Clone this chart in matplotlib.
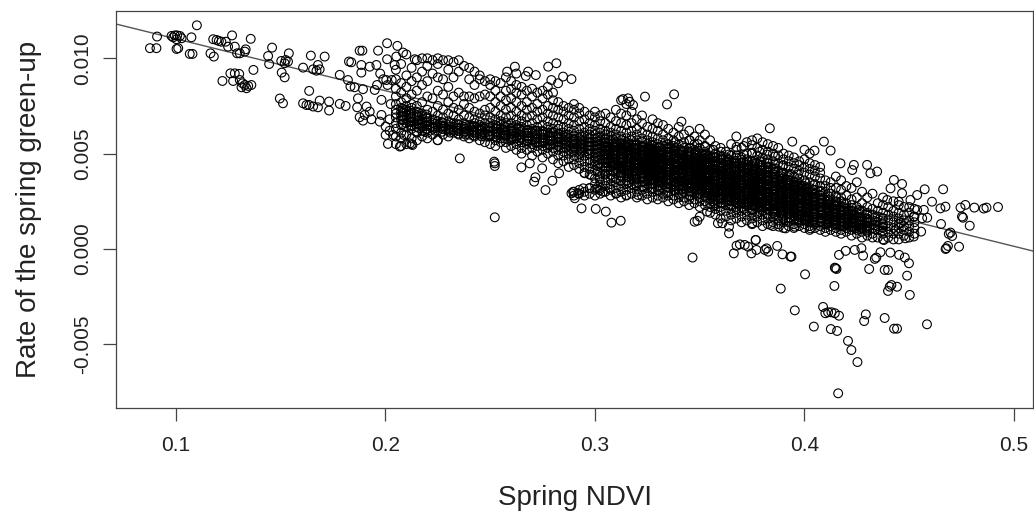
# spring NDVI vs rate of green-up
import numpy as np
import matplotlib
matplotlib.use("Agg")
import matplotlib.pyplot as plt

plt.rcParams['font.family'] = ['Liberation Sans', 'DejaVu Sans']

# rate values are in units of 0.001
# isolated points on the left
left_points = [(.0876,10.53),(.0907,10.53),(.091,11.14),(.0979,11.17),(.0995,11.2),(.1006,11.2),(.1019,11.17),(.1003,11.0),
    (.0987,11.1),(.1027,11.05),(.1003,10.49),(.1011,10.53),(.1074,11.1),(.11,11.73),(.1066,10.23),(.1079,10.23),
    (.1165,10.26),(.1181,10.09),(.1178,11.0),(.1194,10.96),(.1205,10.91),(.1217,10.87),(.1238,10.87),(.1268,11.2),
    (.1249,10.61),(.1281,10.61),(.1292,10.26),(.1305,10.26),(.1333,10.47),(.1329,10.35),(.1357,11.02),(.1222,8.81),
    (.1260,9.21),(.1281,9.21),(.1302,9.18),(.1273,8.81),(.1305,8.86),(.1318,8.69),(.1329,8.6),(.1345,8.55),(.1360,8.6),
    (.1313,8.48),(.1337,8.43),(.137,9.39),(.1459,10.56),(.1440,10.12),(.1445,9.70),(.1539,10.26),(.1503,9.86),
    (.1524,9.91),(.1535,9.83),(.1519,9.74),(.1505,9.25),(.1519,9.0),(.1496,7.89),(.1511,7.64),(.1607,9.51),(.1644,10.14),
    (.1710,10.09),(.1678,9.65),(.1655,9.42),(.1671,9.35),(.1686,9.42),(.1636,8.29),(.1607,7.64),(.1623,7.55),(.1636,7.55),
    (.1655,7.47),(.1678,7.43),(.1686,7.78),(.1731,7.73),(.1731,7.26),(.1782,7.61),(.1810,7.5),(.1782,9.13),(.1821,8.86),
    (.1833,8.52),(.1853,8.48),(.1893,8.38),(.1826,9.83),(.1837,9.79),(.1877,10.4),(.1890,10.4),(.1885,9.65),(.1925,9.56),
    (.1957,9.65),(.1885,9.25),(.1965,10.4),(.2008,10.79),(.2057,10.65),(.2084,10.3),(.2140,9.95),(.2008,9.95),(.2052,10.09),
    (.2044,9.65),(.1949,8.34),(.1981,7.82),(.1869,7.9),(.1865,7.43),(.1910,7.47),(.1925,7.2),(.1901,7.03),(.1877,6.91),
    (.1893,6.73),(.1933,6.8),(.1981,7.03),(.1973,6.68),(.2020,6.8),(.2001,6.42),(.2001,5.98),(.2012,5.51),(.2036,5.98),
    (.1990,8.9),(.1975,9.2),(.2010,8.6),(.2030,8.86),(.2004,8.86),(.1960,8.6),(.2025,7.6),(.2020,6.2)]

# isolated points under the band and above it
middle_points = [(.2522,1.66),(.2355,4.75),(.2519,4.58),(.2522,4.35),(.2522,4.49),(.2649,4.28),(.2689,4.49),(.2748,4.23),
    (.2829,3.97),(.2797,3.58),(.2716,3.76),(.2710,3.53),(.2764,3.09),(.2888,2.92),(.2904,2.66),(.2896,3.0),(.2920,2.92),
    (.2944,3.18),(.2936,2.13),(.3004,2.1),(.3052,1.96),(.3079,1.38),(.3123,1.48),(.3023,3.09),(.2975,3.18),(.3007,3.18),
    (.3039,3.0),(.3103,2.92),(.3150,2.83),(.3206,2.83),(.3071,3.18),(.2951,3.97),(.2983,3.88),(.3023,3.7),(.3239,7.99),
    (.3378,8.11),(.3344,7.58),(.3413,6.68),(.3134,7.86),(.3158,7.9),(.3182,7.55),(.3166,7.72),(.2888,8.91),(.2618,9.56),
    (.2581,9.3),(.2681,9.3),(.2670,9.07),(.2718,9.12),(.2777,9.56),(.2816,9.74),(.2792,8.86),(.2824,8.69),(.2848,9.04),
    (.3476,1.43),(.3500,1.69),(.3489,1.48),(.3535,1.96),(.3587,1.35),(.3571,2.39),(.2249,5.71),(.2117,5.54),(.2129,5.45),
    (.2088,5.98),(.2069,5.37),(.2149,6.15),(.2188,6.15),(.3466,-.45)]

# points lower right and the right-hand tail
right_points = [(.3663,-.23),(.3676,.17),(.3692,.24),(.3715,.21),(.3731,.12),(.3747,-.23),(.3771,-.05),(.3768,.47),(.3811,-.05),
    (.3827,-.14),(.3819,.03),(.3870,.16),(.3895,-.28),(.3933,-.40),(.3938,-.40),(.4003,-1.33),(.3887,-2.08),(.3954,-3.22),
    (.4045,-4.07),(.4089,-3.04),(.4100,-3.37),(.4113,-3.32),(.4129,-3.32),(.4145,-3.37),(.4165,-3.5),(.4126,-4.2),(.4156,-4.3),
    (.4208,-4.82),(.4224,-5.3),(.4253,-5.93),(.4161,-7.57),(.4293,-3.43),(.4285,-3.78),(.4383,-3.62),(.4428,-4.18),(.4442,-4.18),
    (.4585,-3.95),(.4143,-1.94),(.4148,-1.01),(.4153,-1.05),(.4145,-.98),(.4309,-1.05),(.4383,-1.1),(.4399,-1.1),(.4490,-1.4),
    (.4407,-1.98),(.4399,-2.2),(.4415,-1.89),(.4442,-1.98),(.4503,-2.41),(.4165,-.31),(.4197,-.1),(.4240,-.05),(.4272,.04),
    (.4280,-.35),(.4343,-.45),(.4336,-.52),(.4363,-.17),(.4410,-.19),(.4452,-.31),(.4479,-.45),(.4499,-.75),(.4677,.04),
    (.4685,.16),(.4738,.12),(.4674,0.0),(.3835,6.33),(.3942,5.63),(.4093,5.63),(.4125,5.16),(.4048,5.16),(.4662,3.13),
    (.4574,3.13),(.4609,2.48),(.4649,2.13),(.4673,2.22),(.4745,2.17),(.4768,2.31),(.4811,2.17),(.4856,2.12),(.4869,2.17),
    (.4924,2.2),(.4752,1.7),(.4757,1.64),(.4789,1.22),(.4652,1.31),(.4586,1.64),(.4557,.91),(.4697,.86),(.4705,.68),(.4689,.79),
    (.4172,4.49),(.4228,4.14),(.4299,4.41),(.4315,3.97),(.4236,4.41),(.4347,4.06),(.4427,3.62),(.4466,3.41),(.4411,3.18),
    (.4466,2.92),(.4538,2.83),(.4450,2.48),(.4395,2.57),(.4506,2.57),(.4538,2.05),(.4570,2.05),(.4522,1.7),(.4562,1.61),
    (.4522,.65),(.4482,.56),(.4435,1.0),(.4458,1.35),(.4379,.47),(.3608,1.35),(.3640,.82),(.3640,1.17),(.3767,.47),
    (.3751,1.35),(.3838,1.26),(.3878,1.17),(.3910,1.08),(.3954,1.17),(.4029,1.08)]

# the main band, read column by column
band_ndvi = [.205,.2075,.21,.2125,.215,.2175,.22,.2225,.225,.2275,.23,.2325,.235,.2375,.24,.2425,.245,.2475,.25,.2525,
    .255,.2575,.26,.2625,.265,.2675,.27,.2725,.275,.2775,.28,.2825,.285,.2875,.29,.2925,.295,.2975,.30,.3025,
    .305,.3075,.31,.3125,.315,.3175,.32,.3225,.325,.3275,.33,.3325,.335,.3375,.34,.3425,.345,.3475,.35,.3525,
    .355,.3575,.36,.3625,.365,.3675,.37,.3725,.375,.3775,.38,.3825,.385,.3875,.39,.3925,.395,.3975,.40,.4025,
    .405,.4075,.41,.4125,.415,.4175,.42,.4225,.425,.4275,.43,.4325,.435,.4375,.44,.4425,.445,.4475,.45,.4525]
band_rate = [
    [5.5,5.9,6.3,6.6,6.9,7.1,7.3,7.6,8.0,8.4,8.9,9.4],
    [5.4,5.8,6.1,6.5,6.8,7.0,7.2,7.4,7.7,8.2,8.7,9.7],
    [5.5,6.0,6.4,6.6,6.8,7.0,7.2,7.3,7.5,7.9,8.5,9.1,10.2],
    [5.5,5.8,6.3,6.5,6.7,6.9,7.1,7.4,7.6,8.1,8.8,9.5],
    [5.7,6.1,6.4,6.6,6.7,6.9,7.0,7.2,7.5,8.3,9.0,9.9],
    [5.9,6.2,6.4,6.6,6.8,7.0,7.1,7.7,8.6,9.3,10.0],
    [5.8,6.1,6.3,6.5,6.7,6.9,7.3,8.0,8.8,9.6,10.0],
    [6.0,6.3,6.4,6.6,6.8,7.2,7.9,9.2,9.9],
    [5.7,6.2,6.4,6.5,6.7,7.0,7.5,8.3,9.0,9.7,10.0],
    [6.0,6.3,6.4,6.6,6.9,7.3,8.1,8.9,9.9],
    [5.9,6.2,6.3,6.5,6.7,7.1,7.7,8.5,9.4,9.9],
    [6.1,6.2,6.4,6.6,7.0,7.4,8.0,9.0,9.8],
    [6.0,6.2,6.3,6.5,6.8,7.3,8.2,9.3,9.9],
    [5.9,6.1,6.3,6.4,6.6,7.0,7.6,8.0,9.6],
    [5.8,6.0,6.2,6.4,6.5,6.9,7.4,8.0,8.9,9.5],
    [5.9,6.1,6.2,6.4,6.6,6.8,7.2,7.9,8.6,9.3],
    [5.7,6.0,6.2,6.3,6.5,6.7,7.1,8.0,8.9,9.1],
    [5.6,5.9,6.1,6.3,6.4,6.6,7.0,7.3,8.1,8.8],
    [5.5,5.9,6.0,6.2,6.4,6.6,6.9,7.4,8.0,8.6,8.9],
    [5.4,5.7,5.9,6.1,6.3,6.5,6.8,7.2,7.7,8.3,8.8],
    [5.6,5.8,6.0,6.1,6.3,6.5,6.7,7.0,7.5,8.0,8.7],
    [5.3,5.6,5.9,6.0,6.2,6.4,6.6,6.9,7.3,7.8,8.3,9.0],
    [5.4,5.7,5.8,6.0,6.2,6.3,6.6,7.0,7.4,7.9,8.4,8.8],
    [5.2,5.5,5.8,5.9,6.1,6.3,6.5,6.8,7.2,7.7,8.2,8.6,9.2],
    [5.0,5.3,5.6,5.8,6.0,6.2,6.4,6.7,7.0,7.5,8.1,8.5],
    [5.2,5.5,5.7,5.9,6.1,6.2,6.5,6.9,7.3,7.7,8.3],
    [4.9,5.3,5.5,5.7,5.9,6.1,6.3,6.6,7.0,7.4,8.0,8.4],
    [5.1,5.4,5.6,5.8,6.0,6.2,6.4,6.8,7.2,7.6,8.2],
    [4.8,5.2,5.4,5.6,5.8,6.0,6.2,6.5,6.9,7.3,7.9,8.3],
    [5.0,5.3,5.5,5.7,5.9,6.1,6.4,6.7,7.1,7.5,8.1,8.5],
    [4.7,5.1,5.3,5.5,5.7,5.9,6.1,6.3,6.6,7.0,7.4,7.8,8.2],
    [4.5,4.9,5.2,5.4,5.6,5.8,6.0,6.3,6.5,6.9,7.3,7.7],
    [4.6,4.9,5.1,5.3,5.5,5.7,5.9,6.1,6.4,6.8,7.2,7.5],
    [4.3,4.7,5.0,5.2,5.4,5.6,5.8,6.0,6.3,6.6,7.0,7.4],
    [2.8,3.0,4.4,4.7,4.9,5.1,5.3,5.5,5.7,5.9,6.2,6.5,6.9,7.3,7.6],
    [2.9,3.1,4.2,4.5,4.8,5.0,5.2,5.4,5.6,5.8,6.0,6.3,6.7,7.1,7.4],
    [2.8,3.0,4.0,4.3,4.6,4.9,5.1,5.3,5.5,5.7,5.9,6.1,6.4,6.8,7.2],
    [2.9,3.2,3.9,4.2,4.5,4.7,5.0,5.2,5.4,5.6,5.8,6.0,6.3,6.6,7.0],
    [2.8,3.1,3.4,3.7,4.1,4.4,4.6,4.8,5.0,5.2,5.4,5.6,5.8,6.0,6.2,6.5,6.9,7.2],
    [2.9,3.2,3.5,3.8,4.0,4.3,4.5,4.7,4.9,5.1,5.3,5.5,5.7,5.9,6.1,6.3,6.7,7.0],
    [3.0,3.3,3.6,3.9,4.1,4.3,4.5,4.7,4.9,5.0,5.2,5.4,5.6,5.8,6.0,6.2,6.6,7.1],
    [2.8,3.1,3.4,3.7,3.9,4.1,4.3,4.5,4.6,4.8,5.0,5.2,5.3,5.5,5.7,5.9,6.1,6.4,6.9],
    [2.9,3.2,3.5,3.7,4.0,4.2,4.4,4.5,4.7,4.9,5.1,5.2,5.4,5.6,5.8,6.0,6.3,6.7,7.3],
    [2.7,3.0,3.3,3.6,3.8,4.0,4.2,4.3,4.5,4.7,4.8,5.0,5.2,5.3,5.5,5.7,5.9,6.2,6.6,7.1,7.8],
    [2.8,3.1,3.4,3.6,3.8,4.0,4.1,4.3,4.4,4.6,4.8,4.9,5.1,5.3,5.4,5.6,5.8,6.1,6.5,7.0,7.6],
    [2.9,3.2,3.4,3.7,3.9,4.0,4.2,4.4,4.5,4.7,4.8,5.0,5.1,5.3,5.5,5.7,5.9,6.2,6.6,7.2],
    [2.7,3.0,3.3,3.5,3.7,3.9,4.1,4.2,4.4,4.5,4.7,4.9,5.0,5.2,5.3,5.5,5.7,6.0,6.3,6.8],
    [2.8,3.1,3.3,3.5,3.7,3.8,4.0,4.2,4.3,4.5,4.6,4.8,4.9,5.1,5.2,5.4,5.6,5.8,6.1,6.6,7.0],
    [2.6,2.9,3.2,3.4,3.6,3.8,3.9,4.1,4.2,4.4,4.5,4.7,4.8,5.0,5.2,5.3,5.5,5.7,6.0,6.4],
    [2.7,3.0,3.2,3.4,3.6,3.7,3.9,4.0,4.2,4.3,4.5,4.6,4.8,4.9,5.1,5.2,5.4,5.6,5.9,6.3,6.8],
    [2.6,2.8,3.1,3.3,3.5,3.6,3.8,3.9,4.1,4.2,4.4,4.5,4.7,4.8,5.0,5.1,5.3,5.5,5.8,6.2,6.6],
    [2.7,2.9,3.2,3.4,3.5,3.7,3.8,4.0,4.1,4.3,4.4,4.6,4.7,4.9,5.0,5.2,5.4,5.7,6.0,6.5],
    [2.5,2.8,3.0,3.2,3.4,3.6,3.7,3.9,4.0,4.2,4.3,4.5,4.6,4.8,4.9,5.1,5.3,5.5,5.8,6.3],
    [2.6,2.8,3.1,3.3,3.4,3.6,3.8,3.9,4.1,4.2,4.4,4.5,4.7,4.8,5.0,5.2,5.4,5.7,6.1],
    [2.4,2.7,2.9,3.1,3.3,3.5,3.6,3.8,3.9,4.1,4.2,4.4,4.5,4.7,4.8,5.0,5.2,5.5,5.9,6.4],
    [2.5,2.7,3.0,3.2,3.3,3.5,3.7,3.8,4.0,4.1,4.3,4.4,4.6,4.7,4.9,5.1,5.3,5.6,6.0],
    [2.3,2.6,2.8,3.0,3.2,3.4,3.5,3.7,3.8,4.0,4.1,4.3,4.4,4.6,4.7,4.9,5.1,5.3,5.7,6.2],
    [2.4,2.6,2.9,3.1,3.2,3.4,3.6,3.7,3.9,4.0,4.2,4.3,4.5,4.6,4.8,5.0,5.2,5.5,5.9],
    [2.2,2.5,2.7,2.9,3.1,3.3,3.4,3.6,3.7,3.9,4.0,4.2,4.3,4.5,4.6,4.8,5.0,5.3,5.7,6.3],
    [2.3,2.5,2.8,3.0,3.1,3.3,3.5,3.6,3.8,3.9,4.1,4.2,4.4,4.5,4.7,4.9,5.1,5.4,6.0],
    [1.9,2.2,2.4,2.6,2.8,3.0,3.2,3.3,3.5,3.6,3.8,3.9,4.1,4.2,4.4,4.5,4.7,4.9,5.2,5.7],
    [1.8,2.1,2.3,2.6,2.7,2.9,3.1,3.2,3.4,3.5,3.7,3.8,4.0,4.1,4.3,4.4,4.6,4.8,5.0,5.4],
    [1.6,2.0,2.2,2.4,2.6,2.8,3.0,3.1,3.3,3.4,3.6,3.7,3.9,4.0,4.2,4.3,4.5,4.7,4.9,5.3],
    [1.7,2.0,2.3,2.5,2.7,2.9,3.0,3.2,3.3,3.5,3.6,3.8,3.9,4.1,4.2,4.4,4.6,4.8,5.1],
    [1.5,1.8,2.1,2.3,2.5,2.7,2.8,3.0,3.1,3.3,3.4,3.6,3.7,3.9,4.0,4.2,4.4,4.6,4.9,5.5],
    [1.6,1.9,2.1,2.4,2.6,2.7,2.9,3.0,3.2,3.3,3.5,3.6,3.8,3.9,4.1,4.3,4.5,4.8,5.2,5.9],
    [1.4,1.7,2.0,2.2,2.4,2.6,2.7,2.9,3.0,3.2,3.3,3.5,3.6,3.8,3.9,4.1,4.3,4.5,4.8,5.3],
    [1.5,1.8,2.0,2.3,2.5,2.6,2.8,2.9,3.1,3.2,3.4,3.5,3.7,3.8,4.0,4.2,4.4,4.7,5.0,5.6],
    [1.3,1.6,1.9,2.1,2.3,2.5,2.6,2.8,2.9,3.1,3.2,3.4,3.5,3.7,3.9,4.1,4.3,4.6,5.0,5.7],
    [1.4,1.7,1.9,2.2,2.4,2.5,2.7,2.8,3.0,3.1,3.3,3.4,3.6,3.8,4.0,4.2,4.5,4.9,5.3,5.8],
    [1.2,1.5,1.8,2.0,2.2,2.4,2.5,2.7,2.8,3.0,3.1,3.3,3.5,3.7,3.9,4.1,4.4,4.8,5.2,5.6],
    [1.3,1.6,1.8,2.1,2.3,2.4,2.6,2.7,2.9,3.0,3.2,3.4,3.6,3.8,4.0,4.3,4.7,5.1,5.5],
    [1.2,1.4,1.7,1.9,2.1,2.3,2.4,2.6,2.7,2.9,3.1,3.3,3.5,3.7,3.9,4.2,4.6,5.0,5.4],
    [1.3,1.5,1.7,2.0,2.2,2.3,2.5,2.6,2.8,3.0,3.2,3.4,3.6,3.8,4.1,4.5,4.9,5.3],
    [1.1,1.4,1.6,1.8,2.0,2.2,2.3,2.5,2.7,2.9,3.1,3.3,3.5,3.7,4.0,4.4,4.7,5.0],
    [1.2,1.4,1.6,1.9,2.1,2.2,2.4,2.6,2.8,3.0,3.2,3.4,3.6,3.9,4.3,4.6,4.9],
    [1.1,1.3,1.5,1.7,1.9,2.1,2.3,2.5,2.7,2.9,3.1,3.3,3.5,3.8,4.2,4.5,4.8],
    [1.2,1.4,1.5,1.8,2.0,2.2,2.4,2.6,2.8,3.0,3.2,3.4,3.7,4.1,4.4,4.6],
    [1.1,1.3,1.5,1.6,1.9,2.1,2.3,2.5,2.7,2.9,3.1,3.3,3.6,4.0,4.3,4.7,5.2],
    [1.0,1.2,1.4,1.6,1.8,2.0,2.2,2.4,2.6,2.8,3.0,3.2,3.5,3.9,4.2,4.5,5.0],
    [1.1,1.3,1.4,1.7,1.9,2.1,2.3,2.5,2.7,2.9,3.1,3.4,3.8,4.1,4.4],
    [1.0,1.2,1.4,1.6,1.8,2.0,2.2,2.4,2.6,2.8,3.0,3.3,3.7,4.0,4.3],
    [0.9,1.1,1.3,1.5,1.7,1.9,2.1,2.3,2.5,2.7,3.0,3.3,3.6],
    [1.0,1.2,1.4,1.6,1.8,2.0,2.2,2.4,2.6,2.9,3.2,3.5],
    [0.9,1.1,1.3,1.5,1.7,1.9,2.1,2.3,2.5,2.8,3.2,3.8],
    [0.8,1.0,1.2,1.4,1.6,1.8,2.0,2.2,2.5,2.7,3.1,3.6],
    [0.9,1.1,1.3,1.5,1.7,1.9,2.1,2.4,2.8,3.3],
    [0.7,1.0,1.2,1.4,1.6,1.8,2.0,2.3,2.6,3.2],
    [0.8,1.0,1.1,1.3,1.5,1.7,1.9,2.2,2.7,3.5],
    [0.6,0.9,1.1,1.3,1.5,1.7,2.0,2.4,3.0],
    [0.7,0.9,1.2,1.4,1.6,1.9,2.2,2.7],
    [0.6,0.8,1.1,1.3,1.5,1.8,2.1,2.9],
    [0.6,1.0,1.2,1.4,1.7,2.0,2.4],
    [0.5,0.8,1.1,1.3,1.6,1.9,2.3,2.7],
    [0.6,0.9,1.2,1.5,1.8,2.2],
    [0.5,0.8,1.1,1.4,1.7,2.0,2.5],
    [0.5,0.8,1.1,1.3,1.6,1.9,2.3],
    [0.7,1.0,1.2,1.5,1.8,2.2],
    [0.6,0.9,1.2,1.5,1.9,2.2],
    [0.8,1.1,1.4,1.7,2.1],
]

# darker ridge on the left half of the band
ridge_ndvi = [.2083,.2121,.2158,.2196,.2237,.2271,.2309,.2348,.2382,.2421,.2459,.2493,.2532,.2568,.2603,.2641,.2679,.2714,
    .2752,.2787,.2826,.2861,.2899,.2934,.2972]
ridge_rate = [
    [6.55,6.75,6.95,7.15,7.35],[6.45,6.65,6.85,7.05,7.25],[6.35,6.55,6.75,6.95,7.15],[6.3,6.45,6.65,6.85,7.05],
    [6.2,6.35,6.55,6.75],[6.15,6.3,6.45,6.65],[6.1,6.25,6.4,6.6],[6.05,6.2,6.35,6.55],[6.0,6.15,6.3,6.5],
    [5.95,6.1,6.25,6.45],[5.9,6.05,6.2,6.4],[5.9,6.0,6.15,6.35],[5.85,6.0,6.15,6.3,6.45],[5.8,5.95,6.1,6.25,6.4],
    [5.75,5.9,6.05,6.2,6.35],[5.7,5.85,6.0,6.15,6.3],[5.65,5.8,5.95,6.1,6.25],[5.6,5.75,5.9,6.05,6.2],
    [5.55,5.7,5.85,6.0,6.15],[5.45,5.65,5.8,5.95,6.1],[5.4,5.6,5.75,5.9,6.05],[5.3,5.5,5.65,5.85,6.0],
    [5.2,5.4,5.6,5.75,5.95],[5.1,5.3,5.5,5.7,5.9],[5.0,5.2,5.4,5.6,5.8]]

# black core of the band
core_ndvi = [.3012,.3049,.3086,.3123,.3158,.3197,.3233,.3271,.3306,.3344,.3381,.3418,.3453,.3492,.3527,.3565,.3602,.3639,
    .3676,.3711,.3749,.3786,.3822,.3858,.3896,.3931,.3969,.4006,.4042,.4079,.4116,.4152,.4189,.4226,.4262,.4299,.4337,.4373]
core_rate = [
    [4.05,4.35,4.65,4.85,5.05,5.25,5.45,5.65,5.85],[3.95,4.25,4.55,4.75,4.95,5.15,5.35,5.55,5.75],
    [3.75,4.05,4.35,4.55,4.75,4.95,5.15,5.35,5.55,5.75],[3.55,3.85,4.15,4.35,4.55,4.75,4.95,5.15,5.35,5.55],
    [3.45,3.75,3.95,4.15,4.35,4.55,4.75,4.95,5.15,5.35,5.55],[3.35,3.65,3.85,4.05,4.25,4.45,4.65,4.85,5.05,5.25,5.45],
    [3.25,3.55,3.75,3.95,4.15,4.35,4.55,4.75,4.95,5.15,5.35],[3.15,3.45,3.65,3.85,4.05,4.25,4.45,4.65,4.85,5.05,5.25,5.45],
    [3.05,3.35,3.55,3.75,3.95,4.15,4.35,4.55,4.75,4.95,5.15,5.35],[2.95,3.25,3.45,3.65,3.85,4.05,4.25,4.45,4.65,4.85,5.05,5.25,5.5],
    [3.05,3.3,3.5,3.7,3.9,4.1,4.3,4.5,4.7,4.9,5.1,5.3,5.6],[2.9,3.15,3.35,3.55,3.75,3.95,4.15,4.35,4.55,4.75,4.95,5.15,5.4],
    [2.8,3.05,3.25,3.45,3.65,3.85,4.05,4.25,4.45,4.65,4.85,5.05,5.3,5.7],[2.85,3.1,3.3,3.5,3.7,3.9,4.1,4.3,4.5,4.7,4.9,5.15,5.5],
    [2.7,2.95,3.15,3.35,3.55,3.75,3.95,4.15,4.35,4.55,4.75,5.0,5.35],[2.5,2.75,3.0,3.2,3.4,3.6,3.8,4.0,4.2,4.4,4.6,4.85,5.2],
    [2.4,2.65,2.9,3.1,3.3,3.5,3.7,3.9,4.1,4.3,4.5,4.75,5.1],[2.3,2.55,2.8,3.0,3.2,3.4,3.6,3.8,4.0,4.2,4.4,4.65,4.95],
    [2.2,2.45,2.7,2.9,3.1,3.3,3.5,3.7,3.9,4.1,4.3,4.55,4.9,5.35],[2.1,2.35,2.6,2.8,3.0,3.2,3.4,3.6,3.8,4.0,4.25,4.55,4.95,5.4],
    [2.05,2.3,2.55,2.75,2.95,3.15,3.35,3.55,3.75,3.95,4.2,4.6,5.05,5.45],[1.95,2.2,2.45,2.65,2.85,3.05,3.25,3.45,3.65,3.85,4.15,4.6,5.1],
    [1.85,2.1,2.35,2.55,2.75,2.95,3.15,3.35,3.55,3.8,4.1,4.55,4.95],[1.8,2.05,2.3,2.5,2.7,2.9,3.1,3.3,3.5,3.75,4.05,4.45,4.85],
    [1.7,1.95,2.2,2.4,2.6,2.8,3.0,3.2,3.45,3.7,4.0,4.35],[1.65,1.85,2.1,2.3,2.5,2.7,2.9,3.1,3.35,3.6,3.95],
    [1.55,1.75,2.0,2.2,2.4,2.6,2.8,3.05,3.3,3.55,3.9],[1.5,1.7,1.95,2.15,2.35,2.55,2.75,2.95,3.2,3.45],
    [1.45,1.65,1.85,2.05,2.25,2.45,2.65,2.85,3.1,3.35],[1.4,1.6,1.8,2.0,2.2,2.4,2.6,2.8,3.05],
    [1.35,1.55,1.75,1.95,2.15,2.35,2.55,2.75],[1.25,1.45,1.65,1.85,2.05,2.25,2.45,2.7],
    [1.2,1.4,1.6,1.8,2.0,2.2,2.4],[1.15,1.35,1.55,1.75,1.95,2.15],[1.05,1.25,1.45,1.65,1.85,2.05],
    [1.0,1.2,1.4,1.6,1.8],[1.05,1.25,1.45,1.65],[0.95,1.15,1.35,1.6]]

# second pass over the black part, in between the columns above
dark_ndvi = [.3064,.3096,.3129,.3161,.3192,.3224,.3256,.3287,.3319,.3351,.3383,.3414,.3446,.3478,.3509,.3541,.3573,.3604,
    .3636,.3668,.3699,.3731,.3763,.3794,.3826,.3858,.3889,.3921,.3953,.3984,.4016,.4048,.4079,.4111,.4143,.4174,.4206,.4238,.4269,.4301]
dark_rate = [
    [4.62,4.78,4.93,5.08,5.22,5.37,5.53],[4.41,4.57,4.72,4.88,5.02,5.18,5.33,5.47],
    [4.23,4.38,4.52,4.68,4.83,4.98,5.12,5.28,5.43],[4.12,4.27,4.42,4.58,4.72,4.88,5.03,5.18,5.32,5.48],
    [3.93,4.08,4.22,4.38,4.53,4.68,4.82,4.97,5.13,5.28,5.42],[3.82,3.97,4.13,4.28,4.42,4.57,4.73,4.87,5.02,5.17,5.33],
    [3.71,3.87,4.02,4.17,4.33,4.48,4.62,4.77,4.92,5.07,5.22,5.38],[3.62,3.77,3.92,4.07,4.23,4.37,4.53,4.68,4.82,4.97,5.13,5.28],
    [3.52,3.67,3.82,3.98,4.12,4.28,4.43,4.57,4.72,4.88,5.03,5.18],[3.43,3.58,3.73,3.87,4.03,4.18,4.33,4.47,4.63,4.78,4.93,5.07,5.22],
    [3.37,3.53,3.68,3.83,3.97,4.13,4.27,4.42,4.58,4.73,4.87,5.02,5.17],[3.28,3.42,3.58,3.73,3.88,4.03,4.18,4.32,4.48,4.63,4.78,4.92,5.08],
    [3.17,3.33,3.47,3.63,3.78,3.92,4.07,4.23,4.38,4.52,4.67,4.83,4.98,5.12],[3.12,3.27,3.43,3.57,3.72,3.88,4.02,4.17,4.33,4.47,4.62,4.78,4.93,5.08],
    [3.03,3.18,3.33,3.48,3.62,3.77,3.93,4.08,4.22,4.37,4.53,4.68,4.82,4.97],[2.92,3.08,3.23,3.38,3.52,3.67,3.83,3.98,4.12,4.27,4.43,4.58,4.72,4.88],
    [2.83,2.98,3.13,3.27,3.43,3.58,3.73,3.87,4.02,4.17,4.33,4.47,4.63,4.78],[2.72,2.88,3.03,3.18,3.32,3.47,3.63,3.78,3.92,4.07,4.23,4.38,4.52,4.67,4.83],
    [2.62,2.77,2.93,3.08,3.22,3.37,3.52,3.68,3.82,3.97,4.12,4.28,4.42,4.57,4.72],[2.53,2.68,2.82,2.98,3.13,3.27,3.42,3.58,3.73,3.87,4.03,4.18,4.32,4.48,4.63],
    [2.43,2.58,2.73,2.87,3.03,3.18,3.33,3.47,3.62,3.78,3.93,4.07,4.22,4.38,4.53,4.68],[2.32,2.47,2.63,2.78,2.92,3.07,3.23,3.38,3.52,3.67,3.83,3.97,4.13,4.28,4.43,4.58],
    [2.22,2.38,2.53,2.68,2.83,2.97,3.12,3.28,3.42,3.57,3.73,3.88,4.02,4.17,4.33,4.48,4.62],[2.17,2.32,2.47,2.62,2.77,2.93,3.07,3.22,3.38,3.53,3.67,3.82,3.98,4.13,4.27,4.42,4.57],
    [2.08,2.23,2.37,2.53,2.68,2.82,2.97,3.13,3.28,3.42,3.57,3.73,3.88,4.02,4.17,4.33,4.48],[1.97,2.12,2.28,2.43,2.58,2.72,2.87,3.03,3.18,3.32,3.47,3.63,3.78,3.92,4.07,4.23],
    [1.88,2.03,2.18,2.33,2.47,2.62,2.78,2.93,3.07,3.22,3.38,3.53,3.67,3.82,3.98],[1.82,1.97,2.12,2.27,2.43,2.57,2.72,2.88,3.03,3.17,3.32,3.48,3.63,3.77],
    [1.73,1.88,2.03,2.17,2.33,2.48,2.62,2.77,2.93,3.08,3.22,3.37,3.52],[1.67,1.82,1.97,2.13,2.27,2.42,2.58,2.73,2.87,3.02,3.18,3.33],
    [1.62,1.77,1.92,2.07,2.22,2.37,2.53,2.67,2.82,2.97,3.13],[1.53,1.68,1.82,1.98,2.13,2.28,2.42,2.57,2.73,2.88],
    [1.47,1.62,1.78,1.93,2.07,2.22,2.38,2.53,2.67],[1.42,1.57,1.73,1.87,2.02,2.17,2.33,2.48],
    [1.37,1.52,1.67,1.82,1.97,2.13,2.28],[1.32,1.47,1.62,1.77,1.92,2.08],[1.23,1.38,1.53,1.68,1.83,1.98],
    [1.17,1.32,1.47,1.62,1.77],[1.12,1.27,1.42,1.57],[1.08,1.23,1.38,1.53]]

line_intercept = 13.74
line_slope = -27.2

x_ticks = [0.1, 0.2, 0.3, 0.4, 0.5]
x_tick_labels = ["0.1", "0.2", "0.3", "0.4", "0.5"]
y_ticks = [-5, 0, 5, 10]
y_tick_labels = ["-0.005", "0.000", "0.005", "0.010"]

ndvi = [p[0] for p in left_points + middle_points + right_points]
rate = [p[1] for p in left_points + middle_points + right_points]
for cols, vals in [(band_ndvi, band_rate), (ridge_ndvi, ridge_rate), (core_ndvi, core_rate), (dark_ndvi, dark_rate)]:
    for i in range(len(cols)):
        for r in vals[i]:
            ndvi.append(cols[i])
            rate.append(r)

fig = plt.figure(figsize=(10.34, 5.14), dpi=100)
ax = fig.add_axes([116/1034, 1 - 408/514, (1033-116)/1034, (408-11)/514])
ax.axline((0, line_intercept), slope=line_slope, color='#555555', lw=1.0, zorder=1)
ax.scatter(ndvi, rate, s=40, facecolors='none', edgecolors='black', linewidths=0.8, zorder=2)

ax.set_xlim(0.0714, 0.5091)
ax.set_ylim(-8.34, 12.48)
ax.set_xticks(x_ticks)
ax.set_xticklabels(x_tick_labels, fontsize=15, color='#222222')
ax.set_yticks(y_ticks)
ax.set_yticklabels(y_tick_labels, fontsize=15, color='#222222', rotation=90, va='center')
ax.tick_params(axis='x', length=9.5, width=0.9, color='#444444', pad=11)
ax.tick_params(axis='y', length=9.5, width=0.9, color='#444444', pad=8)
for s in ax.spines.values():
    s.set_linewidth(0.9)
    s.set_color('#444444')
ax.set_xlabel("Spring NDVI", fontsize=20, color='#222222', labelpad=21)
ax.set_ylabel("Rate of the spring green-up", fontsize=20, color='#222222', labelpad=22)

fig.savefig("out.png", dpi=100)
